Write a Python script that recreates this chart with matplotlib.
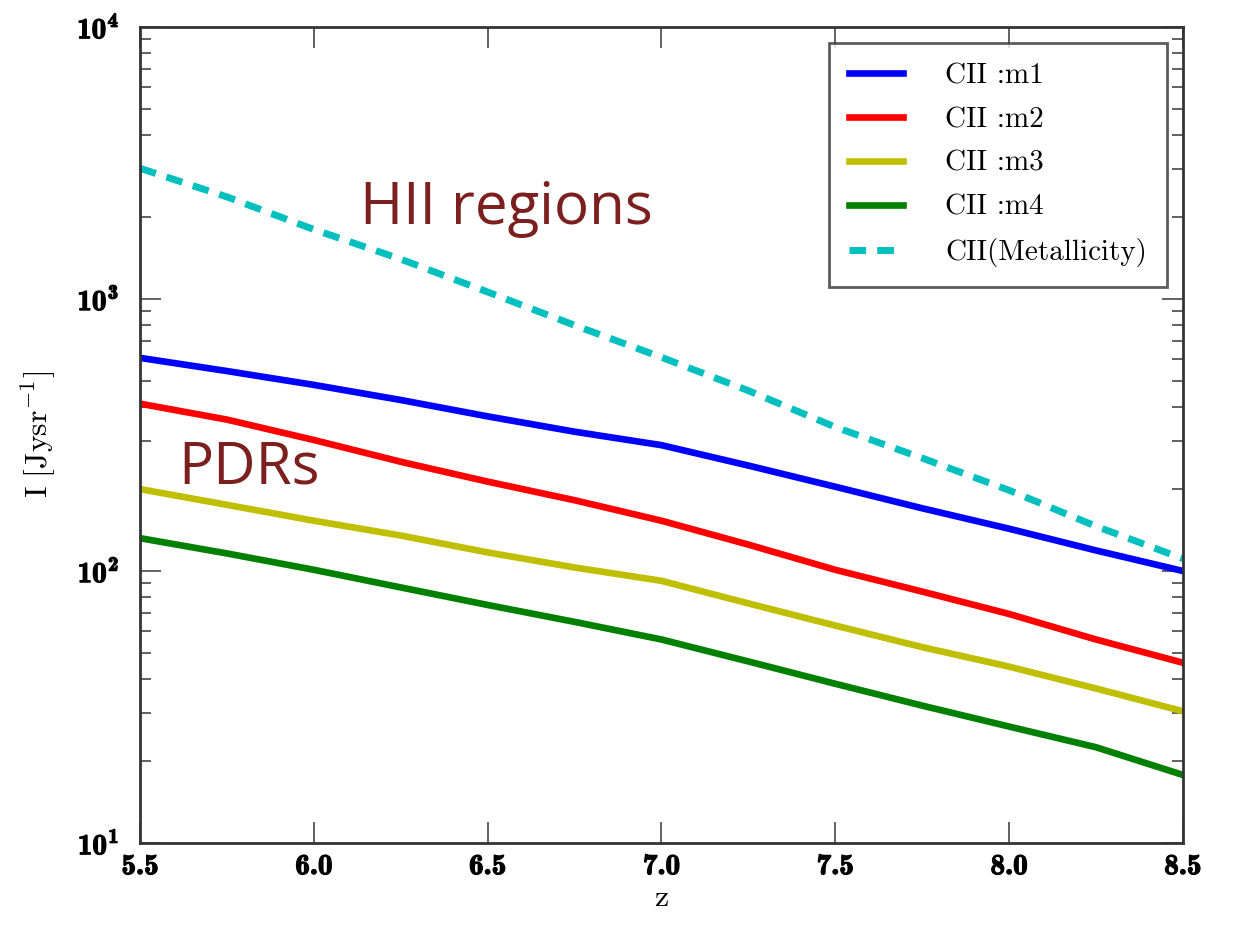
import numpy as np
import matplotlib
matplotlib.use("Agg")
import matplotlib.pyplot as plt
import matplotlib.patheffects as pe

plt.rcParams["mathtext.fontset"] = "cm"
plt.rcParams["mathtext.bf"] = "cmb10"
plt.rcParams["mathtext.rm"] = "cmr10"

# redshift grid and [CII] intensity for each model (Jy/sr)
z = [5.5, 5.75, 6.0, 6.25, 6.5, 6.75, 7.0, 7.25, 7.5, 7.75, 8.0, 8.25, 8.5]
m1 = [607, 543, 483, 425, 370, 325, 290, 244, 204, 170, 143, 119, 100]
m2 = [412, 360, 303, 252, 213, 182, 153, 125, 101, 84, 69.5, 56, 46]
m3 = [200, 175, 153, 135, 117, 103, 92, 76, 63, 52.5, 44.5, 37, 30.5]
m4 = [132, 116, 101, 87, 75, 65, 56, 46.5, 38.5, 32, 26.8, 22.5, 17.8]
metal = [3020, 2370, 1800, 1400, 1060, 800, 610, 460, 338, 260, 198, 146, 111]

labels = ["CII :m1", "CII :m2", "CII :m3", "CII :m4", "CII(Metallicity)"]

xticks = [5.5, 6.0, 6.5, 7.0, 7.5, 8.0, 8.5]
xtick_labels = ["5.5", "6.0", "6.5", "7.0", "7.5", "8.0", "8.5"]
yticks = [1e1, 1e2, 1e3, 1e4]
ytick_labels = [r"$\mathbf{10^{1}}$", r"$\mathbf{10^{2}}$", r"$\mathbf{10^{3}}$", r"$\mathbf{10^{4}}$"]

fig = plt.figure(figsize=(12.36, 9.25), dpi=100)
ax = fig.add_axes([0.1133, 0.0886, 0.8437, 0.8824])

ax.plot(z, m1, color="b", lw=4.8, label=labels[0])
ax.plot(z, m2, color="r", lw=4.8, label=labels[1])
ax.plot(z, m3, color="y", lw=4.8, label=labels[2])
ax.plot(z, m4, color="g", lw=4.8, label=labels[3])
ax.plot(z, metal, color="c", lw=5, ls=(0, (2.4, 1.6)), label=labels[4])

ax.set_yscale("log")
ax.set_xlim(5.5, 8.5)
ax.set_ylim(10, 1e4)
ax.set_xticks(xticks)
ax.set_xticklabels(xtick_labels, fontfamily="cmb10", fontsize=21)
ax.set_yticks(yticks)
ax.set_yticklabels(ytick_labels, fontsize=21, math_fontfamily="custom")

# heavier tick labels
for t in ax.get_xticklabels() + ax.get_yticklabels():
    t.set_path_effects([pe.withStroke(linewidth=0.9, foreground="black")])

ax.tick_params(which="both", direction="in", top=True, right=True, width=1.3, color="#555555")
ax.tick_params(which="major", length=15)
ax.tick_params(axis="x", which="major", pad=8)
ax.tick_params(axis="y", which="major", pad=15)
ax.tick_params(which="minor", length=8)
for s in ax.spines.values():
    s.set_linewidth(2)
    s.set_color("#333333")

ax.set_xlabel("z", fontfamily="cmr10", fontsize=23, labelpad=3)
ax.set_ylabel(r"$\mathrm{I\ [Jysr^{-1}]}$", fontsize=23, labelpad=14)

leg = ax.legend(loc="upper right", prop={"family": "cmr10", "size": 21}, handlelength=1.85,
                handletextpad=1.45, labelspacing=0.6, borderpad=0.68, borderaxespad=0.55,
                fancybox=False)
leg.get_frame().set_edgecolor("#333333")
leg.get_frame().set_linewidth(2)

# region annotations
ax.text(6.133, 1890, "HII regions", family="Open Sans", fontsize=42, color="#7b1f1f", va="baseline")
ax.text(5.609, 209, "PDRs", family="Open Sans", fontsize=42, color="#7b1f1f", va="baseline")

fig.savefig("out.png", dpi=100)
